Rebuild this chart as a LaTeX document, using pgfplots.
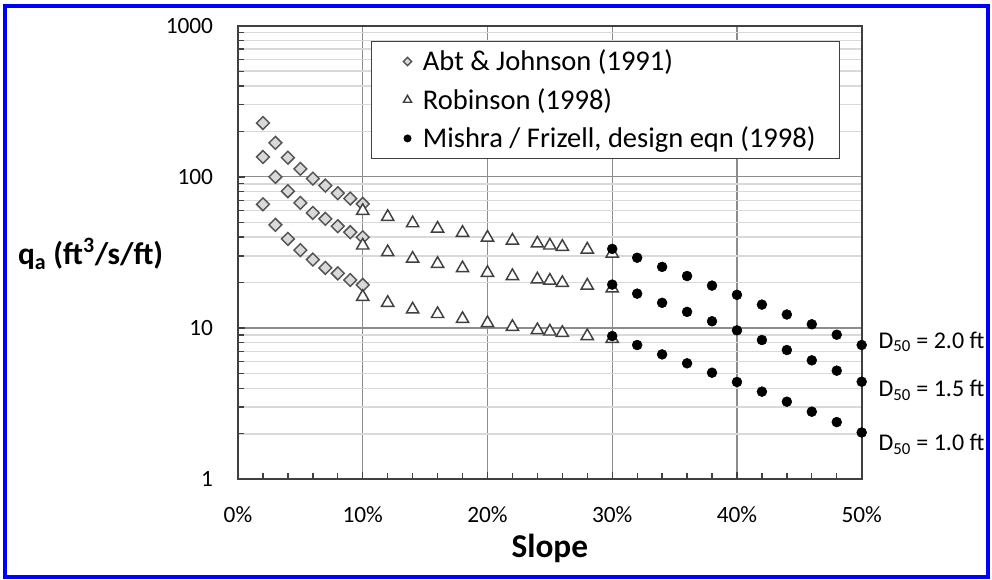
\documentclass[border=0pt]{standalone}
\usepackage{fontspec}
\setmainfont{Carlito}
\usepackage{pgfplots}
\pgfplotsset{compat=1.18}
\definecolor{gridminor}{gray}{0.85}
\definecolor{gridmajor}{gray}{0.55}
\definecolor{axisc}{gray}{0.25}
\definecolor{diamfill}{gray}{0.85}
\definecolor{diamdraw}{gray}{0.33}
\definecolor{tridraw}{gray}{0.25}
\begin{document}
\begin{tikzpicture}
\path[use as bounding box] (-178.5pt,-74.775pt) rectangle (565.5pt,359.475pt);
\fill[white] (-178.5pt,-74.775pt) rectangle (565.5pt,359.475pt);
\begin{axis}[
  at={(0pt,0pt)}, anchor=south west,
  scale only axis, width=467.775pt, height=340.2pt,
  xmin=0, xmax=50, ymin=1, ymax=1000, ymode=log,
  xtick={0,10,20,30,40,50},
  xticklabels={0\%,10\%,20\%,30\%,40\%,50\%},
  minor xtick={2,4,6,8,12,14,16,18,22,24,26,28,32,34,36,38,42,44,46,48},
  ytick={1,10,100,1000}, yticklabels={1,10,100,1000},
  minor ytick={2,3,4,5,6,7,8,9,20,30,40,50,60,70,80,90,200,300,400,500,600,700,800,900},
  xmajorgrids, ymajorgrids, yminorgrids,
  major grid style={gridmajor, line width=0.9pt},
  minor grid style={gridminor, line width=1.1pt},
  axis line style={axisc, line width=1.3pt},
  tick style={axisc, line width=1pt},
  tick align=inside, xtick pos=left, ytick pos=left,
  major tick length=5.25pt, minor tick length=4.5pt,
  tick label style={font=\fontsize{17.5}{20}\selectfont, black},
  /pgf/number format/assume math mode=true,
  xticklabel style={anchor=base, inner sep=0pt, yshift=-32.5pt},
  yticklabel style={anchor=east, inner sep=0pt, xshift=-18.5pt},
  xlabel={Slope},
  every axis x label/.style={at={(rel axis cs:0.5,0)}, anchor=base, yshift=-59pt, font=\bfseries\fontsize{25}{28}\selectfont},
  ylabel={q\textsubscript{a} (ft\textsuperscript{3}/s/ft)},
  every axis y label/.style={at={(rel axis cs:0,0)}, anchor=base west, xshift=-168.5pt, yshift=161pt, font=\bfseries\fontsize{23.5}{26}\selectfont},
  legend style={at={(0.2128,0.967)}, anchor=north west, draw=axisc, line width=1.1pt, fill=white,
    font=\fontsize{21.4}{25}\selectfont, row sep=7.7pt, inner xsep=16pt, inner ysep=4.5pt, cells={anchor=west},
    /tikz/every odd column/.append style={column sep=6pt}},
  legend image code/.code={\path (-10.5pt,0pt) (3pt,0pt); \draw[#1, /tikz/every mark/.append style={scale=0.65}] plot coordinates {(0pt,0pt)};},
]
% Abt & Johnson (1991)
\addplot[only marks, mark=square*, mark size=3.4pt, mark options={rotate=45, fill=diamfill, draw=diamdraw, line width=1.1pt}]
  coordinates {(2,227) (3,168) (4,134) (5,113) (6,97.4) (7,87.6) (8,78.0) (9,71.9) (10,66.3)};
\addlegendentry{Abt \& Johnson (1991)}
\addplot[forget plot, only marks, mark=square*, mark size=3.4pt, mark options={rotate=45, fill=diamfill, draw=diamdraw, line width=1.1pt}]
  coordinates {(2,135.5) (3,100) (4,80.4) (5,67.3) (6,57.8) (7,52.8) (8,47.2) (9,43.1) (10,39.9)};
\addplot[forget plot, only marks, mark=square*, mark size=3.4pt, mark options={rotate=45, fill=diamfill, draw=diamdraw, line width=1.1pt}]
  coordinates {(2,65.9) (3,48.2) (4,38.9) (5,32.8) (6,28.4) (7,25.0) (8,23.0) (9,20.8) (10,19.3)};
% Robinson (1998)
\addplot[only marks, mark=triangle*, mark size=5.3pt, mark options={fill=white, draw=tridraw, line width=1.1pt}]
  coordinates {(10,59.6) (12,54.4) (14,49.4) (16,45.5) (18,42.7) (20,39.7) (22,37.9) (24,36.3) (25,35.2) (26,34.5) (28,33.1) (30,31.1)};
\addlegendentry{Robinson (1998)}
\addplot[forget plot, only marks, mark=triangle*, mark size=5.3pt, mark options={fill=white, draw=tridraw, line width=1.1pt}]
  coordinates {(10,35.2) (12,31.8) (14,28.8) (16,26.6) (18,24.9) (20,23.2) (22,22.1) (24,21.0) (25,20.6) (26,19.9) (28,19.1) (30,18.3)};
\addplot[forget plot, only marks, mark=triangle*, mark size=5.3pt, mark options={fill=white, draw=tridraw, line width=1.1pt}]
  coordinates {(10,16.1) (12,14.7) (14,13.3) (16,12.4) (18,11.5) (20,10.8) (22,10.2) (24,9.7) (25,9.5) (26,9.3) (28,8.86) (30,8.5)};
% Mishra / Frizell (1998)
\addplot[only marks, mark=*, mark size=3.7pt, mark options={fill=black, draw=black}]
  coordinates {(30,33.4) (32,29.2) (34,25.4) (36,22.1) (38,19.1) (40,16.6) (42,14.3) (44,12.3) (46,10.6) (48,9.04) (50,7.73)};
\addlegendentry{Mishra / Frizell, design eqn (1998)}
\addplot[forget plot, only marks, mark=*, mark size=3.7pt, mark options={fill=black, draw=black}]
  coordinates {(30,19.4) (32,16.9) (34,14.7) (36,12.8) (38,11.1) (40,9.66) (42,8.34) (44,7.16) (46,6.12) (48,5.23) (50,4.42)};
\addplot[forget plot, only marks, mark=*, mark size=3.7pt, mark options={fill=black, draw=black}]
  coordinates {(30,8.86) (32,7.73) (34,6.70) (36,5.85) (38,5.07) (40,4.40) (42,3.80) (44,3.26) (46,2.80) (48,2.39) (50,2.04)};
\end{axis}
\node[anchor=base west, inner sep=0pt, font=\fontsize{18}{20}\selectfont] at (480.2pt,98.25pt) {D\textsubscript{50} = 2.0 ft};
\node[anchor=base west, inner sep=0pt, font=\fontsize{18}{20}\selectfont] at (480.2pt,61.95pt) {D\textsubscript{50} = 1.5 ft};
\node[anchor=base west, inner sep=0pt, font=\fontsize{18}{20}\selectfont] at (480.2pt,21.45pt) {D\textsubscript{50} = 1.0 ft};
\draw[blue, line width=3pt] (-174.4pt,-72.9pt) rectangle (562.5pt,354.6pt);
\end{tikzpicture}
\end{document}
